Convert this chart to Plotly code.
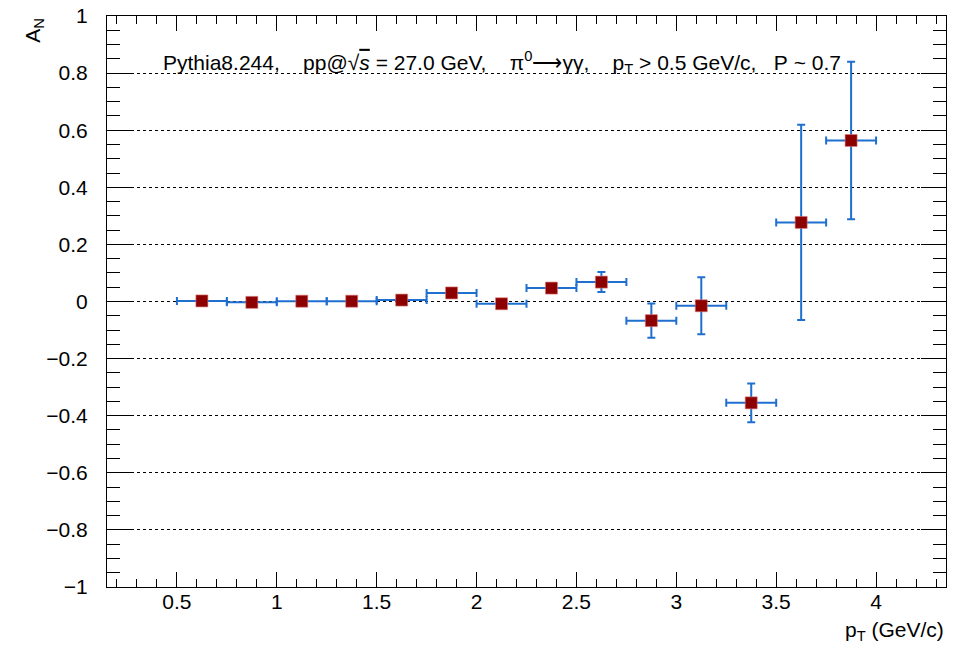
import plotly.graph_objects as go

pt = [0.625, 0.875, 1.125, 1.375, 1.625, 1.875, 2.125, 2.375, 2.625, 2.875, 3.125, 3.375, 3.625, 3.875]
pt_err = [0.125] * 14
an = [0.002, -0.003, 0.001, 0.001, 0.005, 0.030, -0.008, 0.047, 0.068, -0.067, -0.015, -0.355, 0.277, 0.564]
an_err = [0.004, 0.004, 0.004, 0.005, 0.006, 0.008, 0.006, 0.012, 0.035, 0.060, 0.100, 0.068, 0.342, 0.276]

FONT = "Liberation Sans, Arial, Helvetica, sans-serif"
BLUE = "#1f6fd0"

fig = go.Figure()
fig.add_trace(go.Scatter(
    x=pt, y=an, mode="markers",
    marker=dict(symbol="square", size=12, color="#8c0000",
                line=dict(width=1, color="rgba(220,120,120,0.6)")),
    error_x=dict(type="data", array=pt_err, color=BLUE, thickness=2, width=4),
    error_y=dict(type="data", array=an_err, color=BLUE, thickness=2, width=4),
    showlegend=False,
))

# page body has an 8px default margin, so the figure is 8px smaller and margins shifted
fig.update_layout(
    width=960, height=641,
    margin=dict(l=99, r=22, t=8, b=62),
    paper_bgcolor="white", plot_bgcolor="white",
    font=dict(family=FONT, size=21, color="black"),
    xaxis=dict(
        range=[0.15, 4.35], showgrid=False, zeroline=False, automargin=False,
        showline=True, linecolor="black", linewidth=1, mirror="ticks",
        ticks="inside", ticklen=15, tickwidth=1, tickcolor="black",
        tick0=0, dtick=0.5, ticklabeloverflow="allow",
        minor=dict(ticks="inside", ticklen=8, dtick=0.1, tick0=0, tickcolor="black", showgrid=False),
        tickfont=dict(size=21), ticklabelstandoff=-4,
    ),
    yaxis=dict(
        range=[-1, 1], showgrid=True, gridcolor="black", griddash="dot", gridwidth=1,
        zeroline=False, automargin=False,
        showline=True, linecolor="black", linewidth=1, mirror="ticks",
        ticks="inside", ticklen=25, tickwidth=1, tickcolor="black",
        tick0=0, dtick=0.2, ticklabeloverflow="allow",
        minor=dict(ticks="inside", ticklen=13, dtick=0.05, tick0=0, tickcolor="black", showgrid=False),
        tickfont=dict(size=21), ticklabelstandoff=14,
    ),
)

S3 = "\u00a0\u00a0\u00a0\u00a0"
fig.add_annotation(
    xref="paper", yref="paper", x=0.471, y=0.919, xanchor="center", yanchor="middle",
    showarrow=False, font=dict(size=21, family=FONT),
    text="Pythia8.244," + S3 + "pp@√<span style='text-decoration:overline'><i>s</i></span>\u00a0=\u00a027.0\u00a0GeV," + S3 +
         "π<sup>0</sup>⟶γγ," + S3 + "p<sub>T</sub>\u00a0>\u00a00.5\u00a0GeV/c,\u00a0\u00a0\u00a0P\u00a0~\u00a00.7",
)
fig.add_annotation(
    xref="paper", yref="paper", x=-0.088, y=1.0, xanchor="center", yanchor="top",
    showarrow=False, textangle=-90, font=dict(size=21, family=FONT),
    text="A<sub>N</sub>",
)
fig.add_annotation(
    xref="paper", yref="paper", x=1.0, y=-0.05, xanchor="right", yanchor="top",
    showarrow=False, font=dict(size=21, family=FONT),
    text="p<sub>T</sub> (GeV/c)",
)

fig.write_html("out.html")
